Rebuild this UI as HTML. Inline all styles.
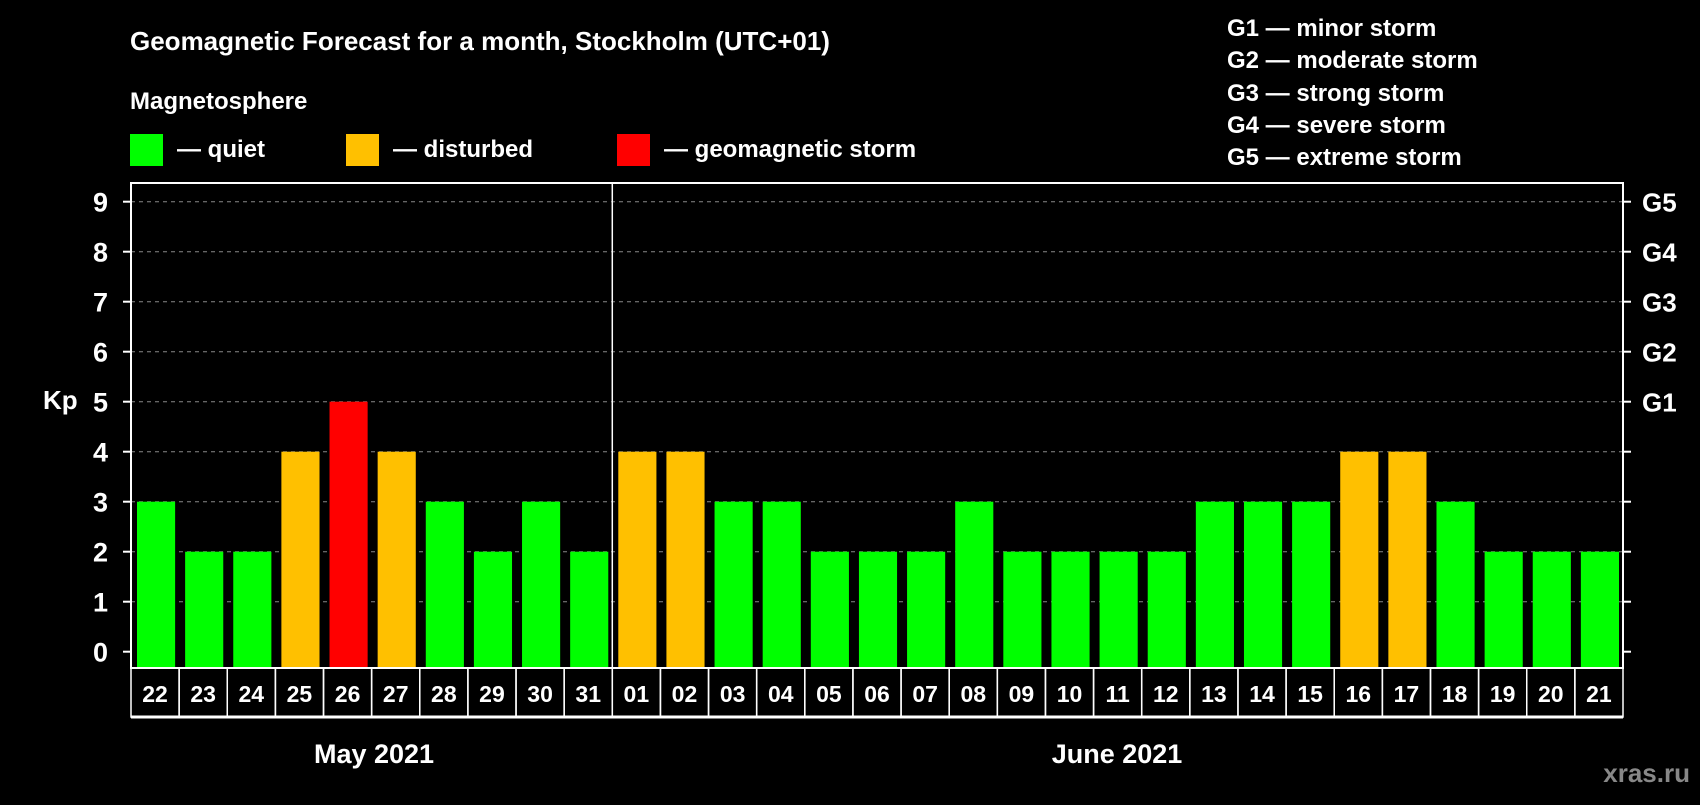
<!DOCTYPE html>
<html><head><meta charset="utf-8"><style>
body{margin:0;background:#000;}
svg text{font-family:"Liberation Sans",sans-serif;font-weight:bold;fill:#fff;}
</style></head><body>
<svg id="chart" width="1700" height="800" viewBox="0 0 1700 800">
<rect width="1700" height="800" fill="#000"/>
<text x="130" y="50" font-size="26">Geomagnetic Forecast for a month, Stockholm (UTC+01)</text>
<text x="130" y="109" font-size="24">Magnetosphere</text>
<g><rect x="130" y="134" width="33" height="32" fill="#00ff00"/><text x="177" y="157" font-size="24">— quiet</text></g>
<g><rect x="346" y="134" width="33" height="32" fill="#ffc000"/><text x="393" y="157" font-size="24">— disturbed</text></g>
<g><rect x="617" y="134" width="33" height="32" fill="#ff0000"/><text x="664" y="157" font-size="24">— geomagnetic storm</text></g>
<g font-size="24">
<text x="1227" y="36">G1 — minor storm</text>
<text x="1227" y="68">G2 — moderate storm</text>
<text x="1227" y="101">G3 — strong storm</text>
<text x="1227" y="133">G4 — severe storm</text>
<text x="1227" y="165">G5 — extreme storm</text>
</g>
<text x="43" y="409" font-size="26">Kp</text>
<g id="plot"></g>
<text x="374" y="763" font-size="27" text-anchor="middle">May 2021</text>
<text x="1117" y="763" font-size="27" text-anchor="middle">June 2021</text>
<text x="1690" y="782" font-size="26" text-anchor="end" style="fill:#888">xras.ru</text>
</svg>
<script>
const days=["22","23","24","25","26","27","28","29","30","31","01","02","03","04","05","06","07","08","09","10","11","12","13","14","15","16","17","18","19","20","21"];
const kp=[3,2,2,4,5,4,3,2,3,2,4,4,3,3,2,2,2,3,2,2,2,2,3,3,3,4,4,3,2,2,2];
const yTicks=[0,1,2,3,4,5,6,7,8,9];
const gLabels=["G1","G2","G3","G4","G5"];
const NS="http://www.w3.org/2000/svg";
const L=131,R=1623,T=183,B=668,Y0=651.7,UNIT=50;
const slot=(R-L)/days.length;
const y=v=>Y0-v*UNIT;
const x=i=>L+i*slot;
const g=document.getElementById('plot');
function mk(t,a,p){const e=document.createElementNS(NS,t);for(const k in a)e.setAttribute(k,a[k]);(p||g).appendChild(e);return e;}
yTicks.forEach(v=>{
 if(v>0){const gl=mk('line',{x1:L,x2:R,y1:y(v),y2:y(v),stroke:'#888','stroke-dasharray':'4,4','stroke-width':1});
 }
 mk('line',{x1:L-8,x2:L,y1:y(v),y2:y(v),stroke:'#fff','stroke-width':2});
 mk('line',{x1:R,x2:R+8,y1:y(v),y2:y(v),stroke:'#fff','stroke-width':2});
 const t=mk('text',{x:108,y:y(v)+10,'font-size':27,'text-anchor':'end'});t.textContent=v;
 
 
});
gLabels.forEach((s,i)=>{const t=mk('text',{x:1642,y:y(5+i)+10,'font-size':26});t.textContent=s;
 
 });
kp.forEach((v,i)=>{
 const c=v>=5?'#ff0000':v>=4?'#ffc000':'#00ff00';
 const r=mk('rect',{x:x(i)+6,y:y(v),width:slot-10,height:B-y(v),fill:c});
 
 
 const cell=mk('rect',{x:x(i),y:B,width:slot,height:49,fill:'none',stroke:'#fff','stroke-width':1.5});
 const t=mk('text',{x:x(i)+slot/2,y:B+34,'font-size':23,'text-anchor':'middle'});t.textContent=days[i];
 
 
});
mk('rect',{x:L,y:T,width:R-L,height:B-T,fill:'none',stroke:'#fff','stroke-width':2});
mk('line',{x1:x(10),x2:x(10),y1:T,y2:B,stroke:'#fff','stroke-width':1.5});
mk('line',{x1:L,x2:R,y1:B+49,y2:B+49,stroke:'#fff','stroke-width':3});
</script>
</body></html>
